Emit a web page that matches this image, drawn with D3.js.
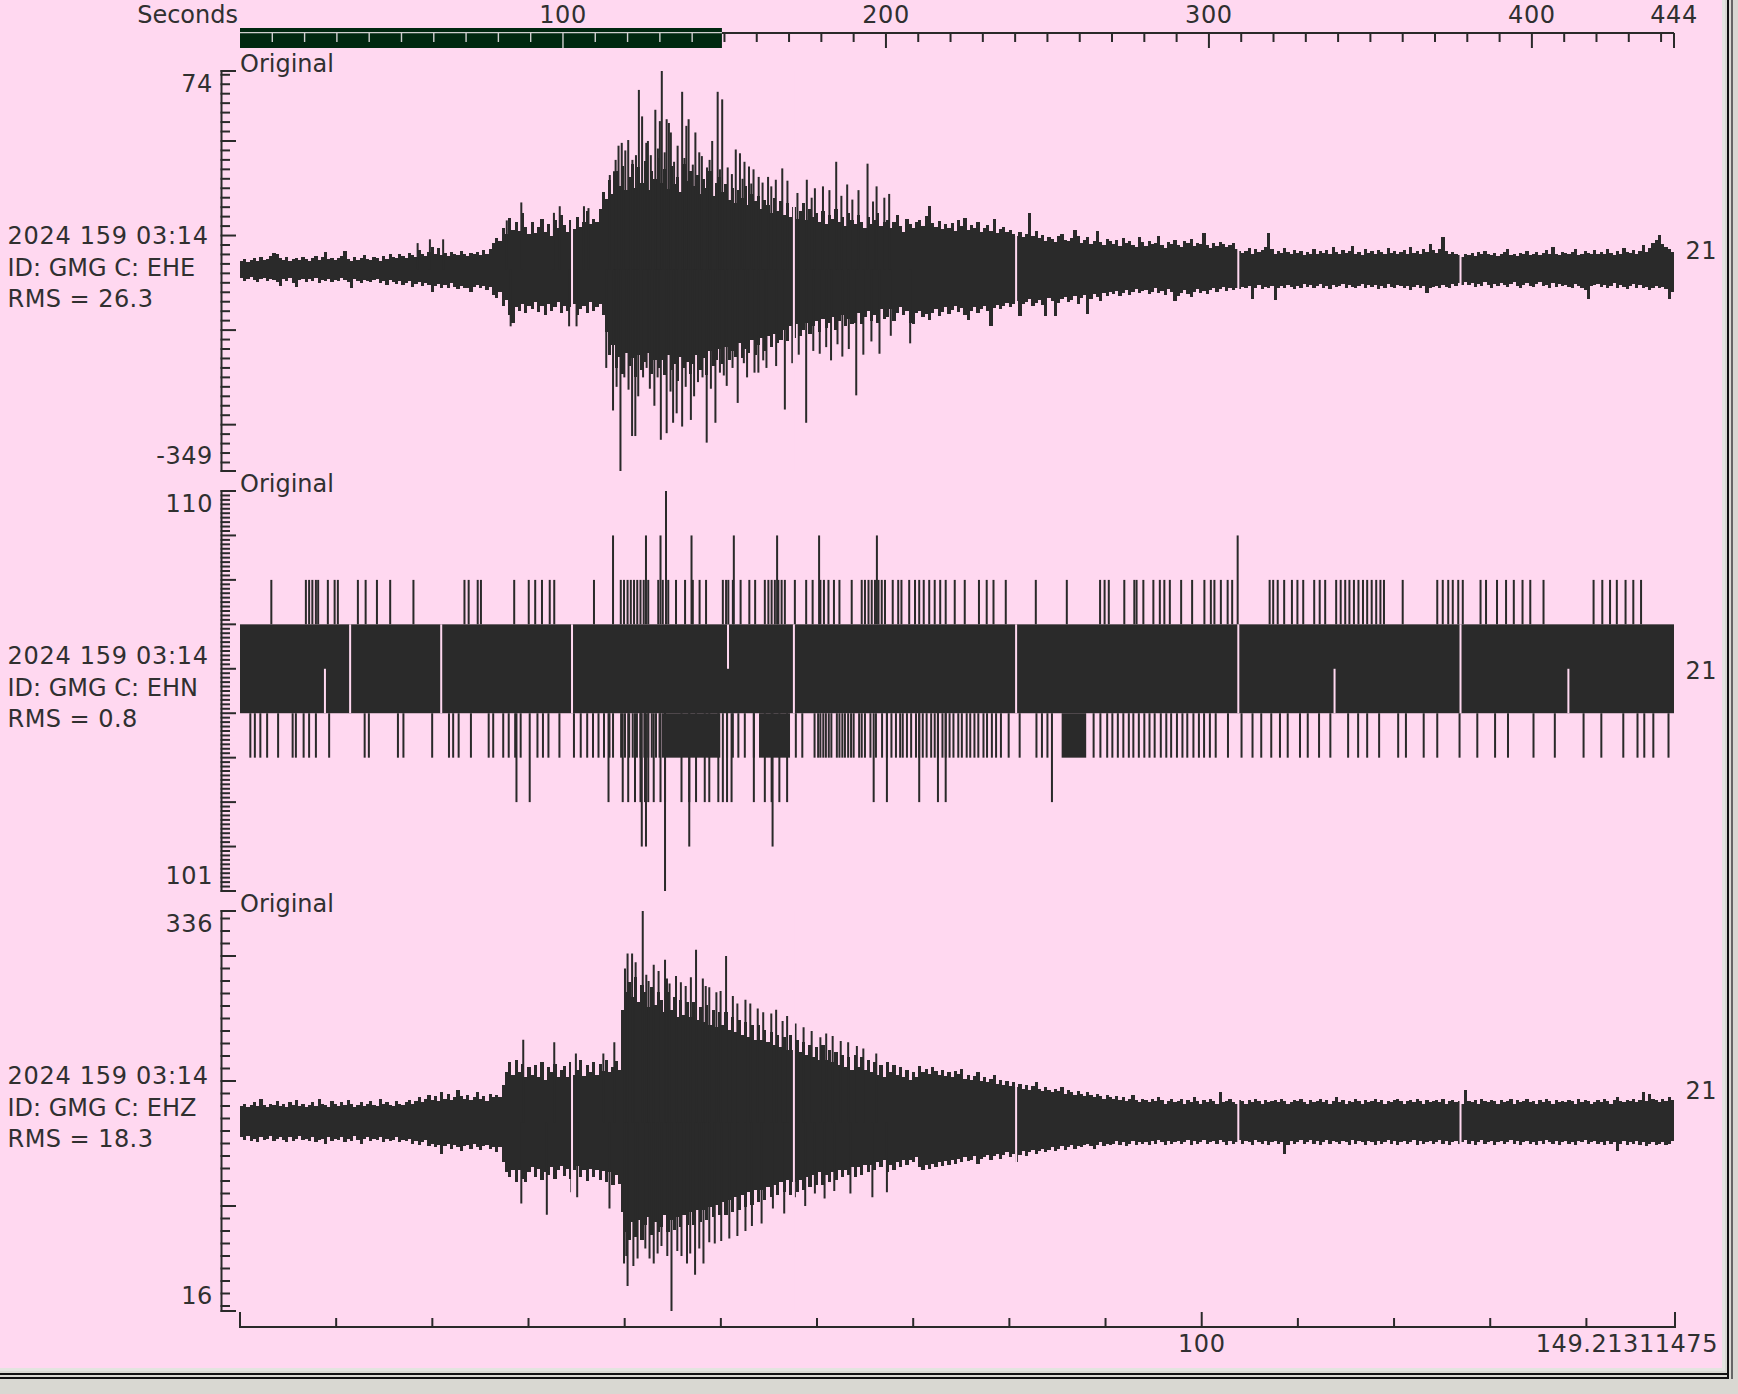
<!DOCTYPE html>
<html><head><meta charset="utf-8">
<script src="https://cdn.jsdelivr.net/npm/d3@7"></script>
<style>
body{margin:0;background:#d9d8d2;}
svg{display:block}
text{font-family:"DejaVu Sans";font-size:24px;fill:#303030}
</style></head>
<body><svg id="c" width="1738" height="1394"></svg>
<script>
// ---------------- data ----------------
const channels = ["EHE", "EHN", "EHZ"];
const stationId = "GMG";
const startLabel = "2024 159 03:14";
const rmsValues = ["26.3", "0.8", "18.3"];
const rightLabel = "21";
const panelTitle = "Original";
const yMax = [74, 110, 336];
const yMin = [-349, 101, 16];
const minorStep = [10, 0.1, 10];
const majorStep = [100, 1, 100];
const topAxisMax = 444;              // seconds
const topAxisLabels = [100, 200, 300, 400, 444];
const viewEnd = 149.21311475;        // highlighted window / bottom axis end
const bottomAxisLabels = [100];
const gapTimes = [102.8, 171.5, 240.3, 309.1, 377.9]; // data gaps (s)
const ehnExtraGaps = [34.1, 62.3];

// EHE: mean level, per-second core envelope (counts above / below mean), isolated peaks [t, value]
const eheMean = -136;
const eheUp = [
9,11,8,10,12,9,13,10,11,14, 18,17,12,10,13,9,11,12,10,13, 11,9,12,14,10,13,19,11,12,10,
12,14,20,11,9,13,10,12,15,11, 10,13,12,9,14,11,16,13,12,17, 14,12,18,15,13,21,16,14,19,24,
17,23,15,18,14,19,16,15,20,17, 14,18,16,19,15,21,17,22,28,33,
30,44,38,55,42,50,41,60,45,38, 50,39,45,54,40,48,36,52,44,58, 47,40,52,43,56,45,50,62,48,53,
50,64,82,75,95,80,104,88,110,84, 98,112,86,108,92,115,84,104,96,118, 92,106,85,110,90,98,82,112,94,104,
88,100,80,96,86,104,78,92,98,82, 90,74,86,70,84,76,88,68,80,72, 78,64,74,68,60,76,62,72,58,70,
56,66,54,62,70,52,64,56,60,50, 62,48,58,54,64,50,56,46,60,52, 48,58,50,44,56,48,52,60,46,50,
52,44,50,58,46,40,54,48,44,50,
52,46,57,67,49,45,51,43,48,44, 49,41,52,46,55,42,47,44,50,40, 44,47,41,54,39,43,45,40,42,38,
36,40,34,38,60,35,41,33,37,30, 34,32,29,36,38,31,30,33,42,35, 28,31,34,27,30,41,29,26,32,30,
27,31,25,33,28,30,26,24,34,29, 25,30,27,28,35,26,23,29,27,31, 26,24,30,28,32,25,28,27,39,26,
23,28,25,29,27,24,26,28,22,20, 18,20,23,17,22,19,21,24,39,22, 17,20,18,23,19,16,21,18,20,15,
19,17,22,16,20,18,21,17,24,19, 16,21,18,20,25,17,19,15,22,18, 20,17,21,19,16,23,18,20,17,19,
21,16,24,18,20,17,22,19,27,21, 18,22,34,20,17,19,16,15,13,17, 15,18,14,19,16,20,17,15,18,14,
16,19,22,15,17,14,18,16,20,15, 17,19,15,18,21,16,24,17,15,19, 18,16,19,22,15,17,20,18,16,21,
17,19,16,22,18,15,20,17,23,19, 18,21,17,20,26,19,23,28,31,37, 27,24,22,19];
const eheDown = [
9,12,10,8,11,13,10,9,12,10, 11,13,17,10,12,9,14,18,11,10, 13,10,12,9,14,11,12,10,13,11,
12,9,11,13,19,10,12,14,11,12, 13,11,10,14,12,16,11,13,15,12, 16,14,12,18,15,13,17,14,16,24,
17,15,19,16,20,14,18,21,17,19, 20,24,18,16,19,17,22,18,27,30,
24,38,32,48,56,40,44,36,46,38, 42,34,45,38,48,36,44,40,34,46, 38,44,40,36,48,42,38,46,34,44,
40,36,48,66,90,80,104,92,110,88, 102,94,114,90,106,98,88,110,96,104, 96,112,90,106,100,118,92,104,98,110,
100,90,106,94,112,86,102,96,84,100, 82,96,86,92,78,94,84,88,74,90, 80,72,86,70,82,68,78,74,64,76,
60,72,58,70,64,56,68,60,54,66, 52,62,56,50,64,54,48,60,52,58, 56,46,58,50,44,54,48,56,42,52,
50,42,54,46,40,48,44,56,58,46,
44,50,47,53,46,42,49,45,40,47, 43,39,45,41,48,53,44,40,46,42, 39,44,60,41,37,42,38,35,40,36,
33,49,36,34,31,38,35,32,37,49, 30,33,49,35,31,29,34,32,28,36, 30,27,47,31,26,29,33,25,28,24,
26,23,28,25,22,27,24,21,25,23, 22,26,24,20,25,23,27,21,24,33, 28,25,22,26,29,24,21,25,23,26,
22,19,24,21,18,23,20,22,19,21, 18,20,17,31,19,16,21,18,20,17, 32,19,17,20,16,18,21,17,19,15,
18,16,20,17,15,19,17,21,16,18, 17,15,19,16,18,20,17,15,19,16, 18,16,21,17,19,15,18,20,16,17,
19,17,22,18,16,20,17,25,19,18, 17,20,16,18,19,15,17,14,16,13, 16,14,18,15,17,13,16,19,15,17,
14,16,18,15,13,17,19,16,14,17, 18,15,13,17,16,19,14,18,15,17, 16,18,20,15,17,19,22,31,17,16,
15,18,16,20,17,14,19,16,18,21, 17,15,19,16,20,18,22,19,17,20, 18,21,31,24];
const eheSpikes = [
[55.0,-108],[58.8,-104],[62.9,-104],[82.6,-84],[87.1,-65],[97.2,-76],[99.0,-69],[106.5,-69],[107.9,-71],
[114.5,-36],[115.8,-32],[117.2,-5],[118.2,-2],[120.2,1],[121.5,-20],[123.5,54],[124.5,26],[125.8,-2],[127.2,-15],
[128.6,33],[130.0,21],[130.6,74],[132.1,23],[132.8,19],[133.4,9],[135.5,-5],[136.9,52],[138.2,16],[138.9,23],
[141.0,9],[143.0,-16],[144.6,-28],[146.2,0],[147.9,52],[149.3,44],[151.0,-28],[153.5,-9],[154.8,-13],[156.2,-22],
[157.6,-27],[159.0,-30],[161.8,-44],[163.5,-38],[165.9,-41],[167.9,-29],[175.5,-41],[178.0,-50],[180.5,-48],
[184.6,-22],[188.0,-46],[191.5,-52],[194.3,-24],[197.1,-48],[201.0,-56],
[116.3,-20],[119.3,-10],[122.6,-15],[126.3,0],[129.4,-8],[131.5,-12],[134.4,-22],[137.6,-18],[140.2,-25],[142.2,-12],
[145.4,-20],[148.6,-30],[152.3,-35],[155.6,-40],[158.3,-45],[160.6,-38],[164.5,-48],[169.5,-42],[172.6,-55],[177.0,-60],
[182.5,-52],[186.2,-58],[189.6,-62],[196.0,-64],[199.5,-60],
[83.8,-196],[101.9,-196],[104.2,-196],[113.4,-240],[115.5,-285],[117.8,-349],[120.3,-263],[121.4,-312],[122.4,-312],
[124.8,-250],[126.9,-262],[130.3,-316],[132.1,-309],[134.1,-298],[135.2,-288],[136.9,-302],[139.6,-295],[141.8,-255],
[144.5,-319],[147.2,-298],[148.6,-245],[150.7,-259],[154.1,-277],[157.0,-250],[160.5,-245],[163.0,-240],[168.7,-284],
[171.0,-235],[175.3,-298],[179.5,-225],[183.0,-232],[186.5,-228],[190.8,-269],[193.0,-226],[198.0,-225],[207.5,-214],
[116.6,-260],[119.0,-250],[123.3,-270],[125.9,-240],[128.3,-280],[129.3,-250],[133.3,-265],[138.0,-260],[140.6,-270],
[143.2,-250],[145.8,-262],[149.8,-248],[152.5,-240],[156.0,-235],[159.3,-245],[162.0,-232],[166.0,-238],[173.0,-226],
[177.5,-222],[181.5,-218],[185.0,-215],[188.5,-220],[195.5,-212],[201.5,-206]];

// EHN: digitised levels. Body spans 105..107; spikes listed by time (s)
const ehnBody = [105, 107];
const ehnUp108 = [9.7,20.4,21.4,22.4,23.5,24.2,27.2,29.3,30.3,36.5,38.9,42.4,46.5,53.7,69.5,70.8,73.6,74.6,84.9,89.4,91.4,93.5,95.9,97.3,109.6,
117.9,118.9,120,121,122,123,124,125,126.4,129.5,130.9,132.6,135,137.8,140.2,142.3,144.3,149.5,150.5,151.2,152.6,155,157.7,159.5,
162.5,163.6,164.6,165.6,166.7,167.7,168.7,171.8,175.3,177.3,179.7,180.8,182.2,183.9,185.6,189.4,192.5,193.5,194.6,195.6,196.6,197.7,198.7,199.7,
202.1,203.8,204.8,207.2,209,210.3,211.7,213.4,215.1,216.8,218.5,221.3,224.4,228.8,231.2,233.3,237.1,246.4,256,266.3,267.7,269,273.8,276.9,277.6,
279.7,282.8,284.8,286.2,287.9,291.4,294.8,298.6,300.6,301.7,303.7,305.8,307.2,318.8,319.9,321.3,323.3,325.7,327.4,329.2,332.6,334.3,336,
339.4,340.8,342.2,343.5,344.9,346.3,347.7,349,350.4,351.8,353.1,354.2,360,370.7,372.4,374.1,375.5,377.2,378.6,384.1,385.8,389.2,392,394.4,
397.1,399.5,403.6,419.1,421.8,424.2,426.3,429,431.4,433.8];
const ehnUp109 = [115.5,125.7,130.2,139.8,152.9,166.3,179.3,197.2,308.9];
const ehnUp110 = [131.9];
const ehnDown104 = [3.2,4.6,6.3,8.4,11.8,16.3,17.3,19.7,21.4,23.5,27.6,38.6,39.9,48.9,50.6,59.5,64.7,66,67.7,71.5,77,78.4,81.5,83.2,85.2,86.9,
92.1,93.8,95.5,98.9,103.4,105.5,107.5,109.3,111,112.7,114.4,115.5,118,119.2,120.5,121.6,122.9,124,125.2,126.4,127.5,128.8,129.9,
150.8,152.6,154.3,156.3,159.1,172.1,174.1,177.9,179,179.7,180.6,181.4,182.3,183.1,184.8,185.6,186.5,187.3,188.3,189.2,190,191.7,192.5,193.5,195.2,196.9,
198.8,200.3,201.7,203.1,204.4,205.2,206.5,207.8,209.3,210.3,211.4,212.6,214,215.1,216.1,217.5,218.5,219.7,220.9,222.4,223.5,225,226.1,227.4,
228.6,230.2,231.3,232.8,234.1,235.6,238,241.4,246.6,248.3,250,264.3,266.4,268.5,270.1,271.8,273.5,275.2,276.6,278.3,280,281.6,283.2,285.1,
286.8,288.3,290.1,291.8,293.3,295.2,296.9,298.5,300.3,302.1,305.9,310.1,313.5,316.2,319.3,322,324.4,328.2,330.6,334.1,337.6,343.1,346.2,
349,352.7,358.6,361,366.5,370.7,377.6,383.1,388.6,392.6,400.5,407.1,416,421.5,428.3,432.7,434.8,437.6,442.3];
const ehnDown104Blocks = [[130.6,148.7],[160.7,170.3],[254.4,262.0]];
const ehnDown103 = [85.6,89.7,114.1,118.5,120.2,122.3,124,125.4,126.4,128.1,130.2,131.6,136.7,139.1,141.2,143.9,145.3,148.1,149.5,150.8,152.2,
159.1,162.5,164.6,167,169.4,196.2,200.3,210.3,216.1,218.5,251.4];
const ehnDown102 = [124.4,125.7,139.1,164.9];
const ehnDown101 = [131.6];
const ehnPartialGaps = [[26.3,105,106],[151.1,106,107],[338.9,105,106],[411.3,105,106]];

// EHZ: mean level, per-second core envelope, isolated peaks [t, value]
const ehzMean = 167;
const ehzUp = [
13,15,12,14,16,13,19,14,12,15, 14,17,13,15,12,16,14,18,13,15, 12,14,16,13,19,15,14,12,17,15,
13,16,14,18,15,12,14,16,13,15, 17,14,13,19,15,16,14,13,17,15, 14,16,18,15,17,20,16,19,22,18,
21,17,24,19,23,18,20,26,21,19, 22,18,20,24,19,21,17,23,20,22,
20,30,40,48,38,50,40,47,36,44, 38,46,36,48,34,44,40,47,36,42, 45,36,48,38,42,50,37,46,40,48,
38,47,41,50,40,44,49,42,90,104, 112,100,116,96,110,104,92,108,94,104, 98,88,104,90,100,84,98,86,96,84,
96,82,92,80,94,78,90,76,88,78, 88,74,84,72,82,70,80,68,78,66, 78,66,74,64,72,62,70,60,68,58,
70,58,66,56,64,54,62,52,60,50, 62,50,58,48,56,46,54,44,52,42, 54,44,52,42,50,40,48,38,46,36,
48,40,46,38,44,36,42,34,40,36,
45,40,43,39,44,41,38,42,37,40, 36,41,39,43,35,38,34,37,40,33, 36,32,35,38,31,34,30,33,29,32,
28,31,27,30,26,29,32,27,25,28, 26,24,27,25,28,23,26,24,22,25, 23,21,24,22,20,23,21,19,22,20,
19,21,18,20,17,19,22,18,16,19, 18,16,19,17,20,18,15,17,19,16, 17,19,15,18,16,20,17,15,18,16,
19,17,15,24,16,17,19,16,15,18, 17,15,18,16,19,17,15,18,16,17, 18,16,19,17,15,16,18,17,19,16,
15,18,16,17,19,16,18,15,17,20, 16,18,15,17,16,19,17,15,18,16, 17,19,16,18,15,17,16,18,19,17,
15,17,18,16,19,17,15,18,16,17, 18,16,19,15,17,18,16,17,15,26, 17,16,18,15,19,17,16,18,17,15,
18,16,17,19,15,18,16,17,19,16, 17,15,18,16,19,17,15,18,16,17, 16,18,17,15,19,16,18,17,15,16,
18,16,19,17,15,18,20,17,16,18, 17,19,16,18,24,17,23,19,18,16, 19,17,20,18];
const ehzDown = [
12,14,11,15,13,16,12,14,13,11, 15,13,12,14,16,12,15,13,11,14, 13,15,12,16,14,13,17,12,15,13,
14,12,16,13,15,11,14,17,13,12, 15,13,14,12,16,13,15,14,12,16, 14,15,13,17,15,18,16,14,19,17,
20,18,25,19,17,21,18,20,23,19, 18,21,17,20,22,19,18,21,20,24,
20,32,40,44,38,48,38,45,48,40, 36,44,37,46,40,42,36,45,38,35, 43,37,45,38,35,44,38,47,37,44,
38,46,39,48,40,50,42,49,72,88, 94,80,92,78,94,82,76,90,80,88, 84,74,88,78,86,76,84,74,82,72,
82,70,80,70,78,68,76,66,74,64, 74,62,72,60,70,58,68,56,66,54, 64,54,62,52,60,50,58,48,56,46,
58,48,56,46,54,44,52,42,50,40, 50,42,48,40,46,38,44,38,42,36, 44,36,42,34,40,34,38,32,36,30,
40,34,38,32,36,30,34,30,32,28,
36,38,34,37,33,36,32,35,31,34, 30,33,29,32,28,31,30,27,33,29, 28,26,30,27,25,29,26,24,28,25,
32,26,23,27,24,22,25,23,21,24, 22,20,23,21,19,22,20,18,21,19, 20,18,17,19,21,18,16,19,17,18,
17,15,18,16,19,17,15,18,16,17, 16,18,15,17,14,16,18,15,17,16, 15,17,16,14,18,15,17,16,14,17,
16,15,17,14,16,18,15,17,16,14, 17,15,16,18,14,16,17,15,18,16, 15,17,16,25,18,15,17,16,14,17,
16,14,17,15,18,16,14,17,15,16, 17,15,16,18,14,17,15,16,18,15, 16,18,15,17,16,14,17,15,18,16,
15,17,16,14,18,15,17,16,15,17, 16,14,17,15,18,16,15,17,16,14, 17,15,18,16,14,17,16,15,18,16,
15,17,16,14,17,15,18,16,15,17, 16,18,15,17,14,16,17,15,18,16, 15,17,16,18,15,16,14,17,16,15,
17,16,18,15,17,16,23,17,15,18, 16,17,15,18,16,19,17,16,18,17, 16,18,17,15];
const ehzSpikes = [
[87.7,233],[97.3,231],[104.0,222],[112.5,222],[115.9,231],[120.0,302],[121.4,302],[124.7,336],[126.5,280],[128.1,293],
[131.6,297],[133.0,278],[135.0,284],[138.0,276],[141.2,305],[143.3,282],[145.3,275],[147.5,271],[150.5,300],[154.0,262],
[158.0,262],[162.0,255],[166.0,257],[169.4,252],[174.5,243],[179.7,235],[183.5,236],[188.3,231],[193.0,226],
[119.2,290],[122.5,295],[125.8,285],[129.6,288],[132.2,282],[136.5,279],[139.6,283],[144.2,276],[148.8,272],[152.6,268],
[156.5,265],[160.3,258],[164.5,254],[168.0,248],[172.0,246],[177.0,240],[181.5,238],[186.0,232],[191.0,228],[197.0,222],
[87.1,102],[95.0,93],[102.6,111],[104.4,107],[114.4,98],[118.9,54],[120.0,36],[123.1,58],[125.5,66],[128.1,54],[130.5,68],
[133.6,16],[136.7,60],[138.4,54],[140.9,45],[143.5,54],[145.3,71],[149.0,72],[154.0,76],[158.5,84],[165.0,98],[171.8,107],
[178.0,110],[184.0,112],[195.8,107],[200.3,111],
[119.6,60],[121.8,52],[126.8,58],[129.3,62],[132.3,60],[135.4,64],[139.4,62],[142.2,66],[147.0,70],[151.5,74],
[156.5,80],[161.5,86],[168.5,94],[175.0,100],[181.0,106],[189.0,110]];

// ---------------- drawing ----------------
const W = 1738, H = 1394;
const PINK = "#ffd8f0", INK = "#2a2a2a";
const svg = d3.select("#c");

// window chrome
svg.append("rect").attr("x",0).attr("y",0).attr("width",W).attr("height",H).attr("fill","#d9d8d2");
svg.append("rect").attr("x",0).attr("y",0).attr("width",1722).attr("height",1368).attr("fill",PINK);
svg.append("rect").attr("x",0).attr("y",1368).attr("width",1722).attr("height",3).attr("fill","#e4e4e0");
svg.append("rect").attr("x",1722).attr("y",0).attr("width",3).attr("height",1371).attr("fill","#e4e4e0");
svg.append("rect").attr("x",0).attr("y",1373).attr("width",1728).attr("height",2).attr("fill","#111");
svg.append("rect").attr("x",0).attr("y",1377).attr("width",1728).attr("height",2).attr("fill","#111");
svg.append("rect").attr("x",1727).attr("y",0).attr("width",2).attr("height",1379).attr("fill","#111");
svg.append("rect").attr("x",1731).attr("y",0).attr("width",2).attr("height",1379).attr("fill","#666");

// top time axis
const x = d3.scaleLinear().domain([0, topAxisMax]).range([240, 1674]);
const axisY = 33;
svg.append("rect").attr("x", x(0)).attr("y", 28).attr("width", x(viewEnd) - x(0)).attr("height", 20).attr("fill", "#002810");
svg.append("line").attr("x1", x(viewEnd)).attr("x2", x(topAxisMax)).attr("y1", axisY).attr("y2", axisY)
  .attr("stroke", INK).attr("stroke-width", 2);
svg.append("line").attr("x1", x(0)).attr("x2", x(viewEnd)).attr("y1", 32.6).attr("y2", 32.6)
  .attr("stroke", "#cfcfcf").attr("stroke-width", 1.3);
const topTicks = d3.range(10, topAxisMax, 10).concat([topAxisMax]);
topTicks.forEach(t => {
  const major = (t % 100 === 0) || t === topAxisMax;
  const inBar = t < viewEnd;
  svg.append("line").attr("x1", x(t)).attr("x2", x(t)).attr("y1", axisY).attr("y2", axisY + (major ? 15 : 9))
    .attr("stroke", inBar ? "#d0d0d0" : INK).attr("stroke-width", inBar ? 1.4 : 2);
});
svg.append("text").attr("x", 238).attr("y", 22.5).attr("text-anchor", "end").text("Seconds");
topAxisLabels.forEach(t => {
  svg.append("text").attr("x", x(t)).attr("y", 23).attr("text-anchor", "middle").attr("letter-spacing", 0.6).text(t);
});

// panels
const panelTop = [71, 491, 911];
const panelH = 400;
const axisX = 221.5;

function gapMask(g, list, top, bottom) {
  list.forEach(t => {
    g.append("rect").attr("x", x(t) - 1).attr("y", top).attr("width", 2).attr("height", bottom - top).attr("fill", PINK);
  });
}

function envelopeTrace(g, y, mean, up, down, spikes) {
  const pts = up.map((u, i) => ({t: i, hi: mean + u, lo: mean - down[i]}));
  pts.push({t: up.length, hi: pts[pts.length - 1].hi, lo: pts[pts.length - 1].lo});
  const area = d3.area().x(d => x(d.t)).y0(d => y(d.lo)).y1(d => y(d.hi)).curve(d3.curveStepAfter);
  g.append("path").attr("d", area(pts)).attr("fill", INK).attr("shape-rendering", "crispEdges");
  spikes.forEach(([t, v]) => {
    const y1 = Math.min(y(v), y(mean)), y2 = Math.max(y(v), y(mean));
    g.append("rect").attr("x", x(t) - 1).attr("y", y1).attr("width", 2).attr("height", y2 - y1).attr("fill", INK);
  });
}

function ehnTrace(g, y) {
  const [lo, hi] = ehnBody;
  g.append("rect").attr("x", x(0)).attr("y", y(hi)).attr("width", x(topAxisMax) - x(0)).attr("height", y(lo) - y(hi)).attr("fill", INK);
  ehnPartialGaps.forEach(([t, a, b]) => {
    g.append("rect").attr("x", x(t) - 1).attr("y", y(b)).attr("width", 2).attr("height", y(a) - y(b)).attr("fill", PINK);
  });
  const spike = (list, level, fromLevel) => list.forEach(t => {
    const y1 = Math.min(y(level), y(fromLevel)), y2 = Math.max(y(level), y(fromLevel));
    g.append("rect").attr("x", x(t) - 1).attr("y", y1).attr("width", 2).attr("height", y2 - y1).attr("fill", INK);
  });
  spike(ehnUp108, 108, hi); spike(ehnUp109, 109, hi); spike(ehnUp110, 110, hi);
  spike(ehnDown104, 104, lo); spike(ehnDown103, 103, lo); spike(ehnDown102, 102, lo); spike(ehnDown101, 101, lo);
  ehnDown104Blocks.forEach(([a, b]) => {
    g.append("rect").attr("x", x(a)).attr("y", y(lo)).attr("width", x(b) - x(a)).attr("height", y(104) - y(lo)).attr("fill", INK);
  });
}

channels.forEach((ch, i) => {
  const top = panelTop[i], bottom = top + panelH, mid = top + panelH / 2;
  const y = d3.scaleLinear().domain([yMin[i], yMax[i]]).range([bottom, top]);
  const g = svg.append("g");

  // trace
  if (i === 0) { envelopeTrace(g, y, eheMean, eheUp, eheDown, eheSpikes); gapMask(g, gapTimes, top, bottom); }
  if (i === 1) { ehnTrace(g, y); gapMask(g, gapTimes.concat(ehnExtraGaps), y(107), y(105)); }
  if (i === 2) { envelopeTrace(g, y, ehzMean, ehzUp, ehzDown, ehzSpikes); gapMask(g, gapTimes, top, bottom); }

  // y axis
  g.append("line").attr("x1", axisX).attr("x2", axisX).attr("y1", top - 1).attr("y2", bottom + 1)
    .attr("stroke", INK).attr("stroke-width", 2);
  const step = minorStep[i];
  const n0 = Math.ceil(yMin[i] / step - 1e-9), n1 = Math.floor(yMax[i] / step + 1e-9);
  const ticks = [];
  for (let n = n0; n <= n1; n++) {
    const v = +(n * step).toFixed(6);
    if (v <= yMin[i] || v >= yMax[i]) continue;
    const r = v / majorStep[i];
    ticks.push({v, major: Math.abs(r - Math.round(r)) < 1e-6});
  }
  ticks.push({v: yMin[i], major: true}, {v: yMax[i], major: true});
  ticks.forEach(d => {
    g.append("line").attr("x1", axisX - 1).attr("x2", d.major ? 236 : 230)
      .attr("y1", y(d.v)).attr("y2", y(d.v)).attr("stroke", INK).attr("stroke-width", 2);
  });
  g.append("text").attr("x", 213).attr("y", top + 21).attr("text-anchor", "end").attr("letter-spacing", 0.6).text(yMax[i]);
  g.append("text").attr("x", 213).attr("y", bottom - 7.5).attr("text-anchor", "end").attr("letter-spacing", 0.6).text(yMin[i]);

  // labels
  g.append("text").attr("x", 240).attr("y", top + 1).text(panelTitle);
  g.append("text").attr("x", 7.5).attr("y", mid - 27).attr("letter-spacing", 0.7).text(startLabel);
  g.append("text").attr("x", 7.5).attr("y", mid + 5).text(`ID: ${stationId} C: ${ch}`);
  g.append("text").attr("x", 7.5).attr("y", mid + 35.5).attr("letter-spacing", 0.45).text(`RMS = ${rmsValues[i]}`);
  g.append("text").attr("x", 1685.5).attr("y", mid - 12.5).attr("letter-spacing", 0.6).text(rightLabel);
});

// bottom axis (zoomed window 0..149.21 s)
const xb = d3.scaleLinear().domain([0, viewEnd]).range([240, 1675]);
const bY = 1327;
svg.append("line").attr("x1", xb(0) - 1).attr("x2", xb(viewEnd) + 1).attr("y1", bY).attr("y2", bY).attr("stroke", INK).attr("stroke-width", 2);
d3.range(0, viewEnd, 10).concat([viewEnd]).forEach(t => {
  const major = t === 0 || t === 100 || t === viewEnd;
  svg.append("line").attr("x1", xb(t)).attr("x2", xb(t)).attr("y1", bY).attr("y2", bY - (major ? 15 : 9))
    .attr("stroke", INK).attr("stroke-width", 2);
});
bottomAxisLabels.forEach(t => {
  svg.append("text").attr("x", xb(t)).attr("y", 1352).attr("text-anchor", "middle").attr("letter-spacing", 0.6).text(t);
});
svg.append("text").attr("x", 1718).attr("y", 1352).attr("text-anchor", "end").attr("letter-spacing", 0.55).text("149.21311475");
</script></body></html>
